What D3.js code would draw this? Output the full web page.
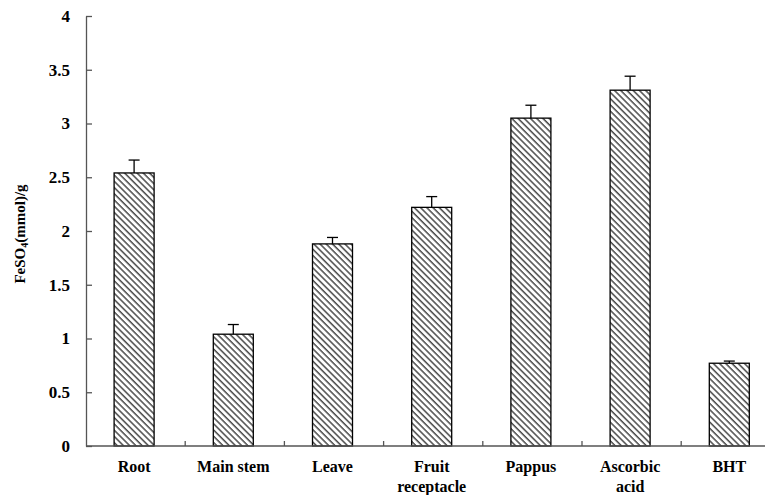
<!DOCTYPE html>
<html>
<head>
<meta charset="utf-8">
<script src="https://cdn.jsdelivr.net/npm/d3@7"></script>
<style>
  body { margin: 0; background: #fff; }
  text { font-family: "Liberation Serif", "Times New Roman", serif; font-weight: bold; fill: #000; }
</style>
</head>
<body>
<svg id="chart" width="773" height="495"></svg>
<script>
const categories = ['Root', 'Main stem', 'Leave', 'Fruit\nreceptacle', 'Pappus', 'Ascorbic\nacid', 'BHT'];
const values = [2.54, 1.04, 1.88, 2.22, 3.05, 3.31, 0.77];
const errors = [0.12, 0.09, 0.06, 0.10, 0.12, 0.13, 0.02];
const yTicks = [0, 0.5, 1, 1.5, 2, 2.5, 3, 3.5, 4];

const svg = d3.select('#chart');
const plotLeft = 86, plotTop = 16, plotBottom = 446;
const axisEnd = 765;

const x = d3.scaleBand()
    .domain(categories)
    .range([plotLeft, plotLeft + 7 * 99.2])
    .padding(0);

const y = d3.scaleLinear()
    .domain([0, 4])
    .range([plotBottom, plotTop]);

const barW = 40;

// hatch
const defs = svg.append('defs');
defs.append('pattern')
    .attr('id', 'hatch')
    .attr('patternUnits', 'userSpaceOnUse')
    .attr('width', 4.4)
    .attr('height', 4.4)
    .attr('patternTransform', 'rotate(-45)')
    .call(p => {
        p.append('rect').attr('width', 4.4).attr('height', 4.4).attr('fill', '#fff');
        p.append('line')
            .attr('x1', 1).attr('y1', 0)
            .attr('x2', 1).attr('y2', 4.4)
            .attr('stroke', '#4a4a4a')
            .attr('stroke-width', 1.5);
    });

// bars
svg.append('g')
    .selectAll('rect')
    .data(values)
    .enter()
    .append('rect')
    .attr('x', (d, i) => x(categories[i]) + x.bandwidth() / 2 - barW / 2 - 1.5)
    .attr('y', d => y(d))
    .attr('width', barW)
    .attr('height', d => plotBottom - y(d))
    .attr('fill', 'url(#hatch)')
    .attr('stroke', '#000')
    .attr('stroke-width', 1.3);

// error bars
const eb = svg.append('g').attr('stroke', '#000').attr('stroke-width', 1.3);
values.forEach((v, i) => {
    const cx = x(categories[i]) + x.bandwidth() / 2 - 1.5;
    eb.append('line')
        .attr('x1', cx).attr('x2', cx)
        .attr('y1', y(v)).attr('y2', y(v + errors[i]));
    eb.append('line')
        .attr('x1', cx - 5.5).attr('x2', cx + 5.5)
        .attr('y1', y(v + errors[i])).attr('y2', y(v + errors[i]));
});

// y axis
const yAxis = svg.append('g')
    .attr('transform', `translate(${plotLeft},0)`)
    .call(d3.axisLeft(y).tickValues(yTicks).tickSize(-6).tickSizeOuter(0).tickPadding(16)
        .tickFormat(d => d));
yAxis.select('.domain').attr('stroke', '#555').attr('stroke-width', 1.3);
yAxis.selectAll('.tick line').attr('stroke', '#555').attr('stroke-width', 1.3);
yAxis.selectAll('.tick text')
    .attr('font-size', 17)
    .attr('font-family', '"Liberation Serif", serif')
    .attr('font-weight', 'bold')
    .attr('fill', '#000');

// x axis
const xg = svg.append('g').attr('transform', `translate(0,${plotBottom})`);
xg.append('line')
    .attr('x1', plotLeft).attr('x2', axisEnd)
    .attr('y1', 0).attr('y2', 0)
    .attr('stroke', '#555').attr('stroke-width', 1.3);
xg.selectAll('line.tick')
    .data(categories.slice(1))
    .enter()
    .append('line')
    .attr('class', 'tick')
    .attr('x1', d => x(d)).attr('x2', d => x(d))
    .attr('y1', 0).attr('y2', -5)
    .attr('stroke', '#555').attr('stroke-width', 1.3);

xg.selectAll('text')
    .data(categories)
    .enter()
    .append('text')
    .attr('text-anchor', 'middle')
    .attr('font-size', 16)
    .attr('transform', d => `translate(${x(d) + x.bandwidth() / 2 - 1.5},25.5)`)
    .each(function (d) {
        d.split('\n').forEach((t, j) => {
            d3.select(this).append('tspan')
                .attr('x', 0)
                .attr('dy', j === 0 ? 0 : 20)
                .text(t);
        });
    });

// y label
const yl = svg.append('text')
    .attr('transform', 'translate(25,234) rotate(-90)')
    .attr('text-anchor', 'middle')
    .attr('font-size', 15);
yl.append('tspan').text('FeSO');
yl.append('tspan').attr('font-size', 10).attr('dy', 3).text('4');
yl.append('tspan').attr('dy', -3).text('(mmol)/g');
</script>
</body>
</html>
